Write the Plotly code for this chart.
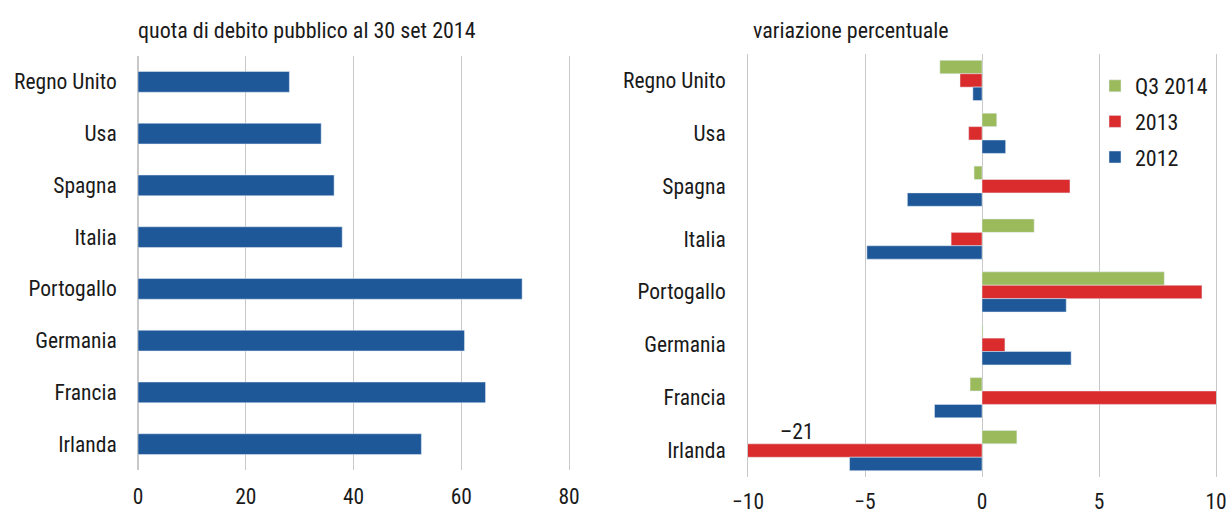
import plotly.graph_objects as go

countries = ["Regno Unito", "Usa", "Spagna", "Italia", "Portogallo", "Germania", "Francia", "Irlanda"]
quota_debito = [28.1, 34.0, 36.4, 37.9, 71.3, 60.6, 64.5, 52.6]

var_q3_2014 = [-1.8, 0.63, -0.34, 2.23, 7.79, 0.04, -0.51, 1.49]
var_2013 = [-0.94, -0.57, 3.76, -1.32, 9.4, 0.98, 10.05, -21.0]
var_2012 = [-0.39, 1.01, -3.19, -4.92, 3.6, 3.81, -2.03, -5.66]

left_ticks = [0, 20, 40, 60, 80]
right_ticks = [-10, -5, 0, 5, 10]

BLUE = "#1F5898"
RED = "#DA2C2C"
GREEN = "#9BBA5C"
FONT = "Liberation Sans Narrow, Roboto Condensed, Liberation Sans, sans-serif"
TXT = "#1a1a1a"
GRID = "#c8c8c8"
TICK_SIZE = 21.5
TEXT_SIZE = 22

fig = go.Figure()

fig.add_trace(go.Bar(
    x=quota_debito, y=countries, orientation="h",
    marker=dict(color=BLUE), showlegend=False,
    xaxis="x", yaxis="y", width=0.4,
))

for name, vals, col in [("Q3 2014", var_q3_2014, GREEN), ("2013", var_2013, RED), ("2012", var_2012, BLUE)]:
    fig.add_trace(go.Bar(
        x=vals, y=countries, orientation="h", name=name,
        marker=dict(color=col), xaxis="x2", yaxis="y2",
        legendgroup=name,
    ))

ydom_left = [1 - 470 / 512, 1 - 56 / 512]
ydom_right = [1 - 477 / 512, 1 - 54 / 512]
cat_range = [len(countries) - 0.5, -0.5]

axis_common = dict(
    showgrid=True, gridcolor=GRID, gridwidth=1,
    zeroline=True, zerolinecolor=GRID, zerolinewidth=1, automargin=False,
    showline=False, ticks="outside", tickcolor="rgba(0,0,0,0)",
    tickfont=dict(family=FONT, size=TICK_SIZE, color=TXT),
)

yaxis_common = dict(
    range=cat_range, autorange=False, showgrid=False, automargin=False,
    ticks="outside", tickcolor="rgba(0,0,0,0)",
    showline=True, linecolor=GRID, linewidth=1, mirror=True,
    tickfont=dict(family=FONT, size=TICK_SIZE, color=TXT),
)

fig.update_layout(
    width=1228, height=512,
    margin=dict(l=0, r=0, t=0, b=0),
    paper_bgcolor="white", plot_bgcolor="white",
    barmode="group", bargap=0.24, bargroupgap=0,
    font=dict(family=FONT, color=TXT),
    xaxis=dict(domain=[138 / 1228, 569 / 1228], range=[0, 80], tickvals=left_ticks,
               anchor="y", ticklen=7, **axis_common),
    yaxis=dict(anchor="x", domain=ydom_left, ticklen=16, **yaxis_common),
    xaxis2=dict(domain=[748 / 1228, 1216 / 1228], range=[-10, 10], tickvals=right_ticks,
                anchor="y2", ticklen=5, **axis_common),
    yaxis2=dict(anchor="x2", domain=ydom_right, ticklen=17, **yaxis_common),
    legend=dict(x=1095 / 1228, y=1 - 65 / 512, xanchor="left", yanchor="top",
                font=dict(family=FONT, size=TEXT_SIZE, color=TXT),
                traceorder="grouped", tracegroupgap=4,
                bgcolor="rgba(0,0,0,0)", itemwidth=30),
    annotations=[
        dict(text="quota di debito pubblico al 30 set 2014", xref="paper", yref="paper",
             x=136 / 1228, y=1 - 30 / 512, xanchor="left", yanchor="middle", showarrow=False,
             font=dict(family=FONT, size=TEXT_SIZE, color=TXT)),
        dict(text="variazione percentuale", xref="paper", yref="paper",
             x=751 / 1228, y=1 - 30 / 512, xanchor="left", yanchor="middle", showarrow=False,
             font=dict(family=FONT, size=TEXT_SIZE, color=TXT)),
        dict(text="\u201321", xref="x2", yref="y2", x=-7.9, y="Irlanda", yshift=19,
             xanchor="center", yanchor="middle", showarrow=False,
             font=dict(family=FONT, size=TICK_SIZE, color=TXT)),
    ],
)

fig.write_html("out.html", config={"displayModeBar": False},
               post_script="document.body.style.margin='0';")
